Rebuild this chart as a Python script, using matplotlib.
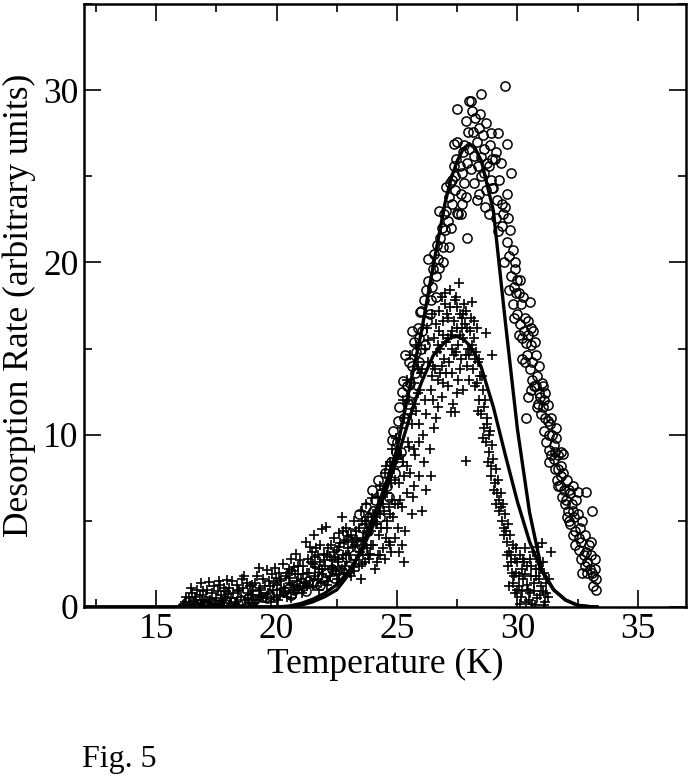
import matplotlib
matplotlib.use("Agg")
import matplotlib.pyplot as plt
from matplotlib.ticker import MultipleLocator

plt.rcParams['font.family'] = ['Liberation Serif', 'DejaVu Serif']

# circles (first data set)
circ_x = [16.4, 16.7, 17.0, 17.3, 17.6, 17.9, 18.2, 18.5, 18.8, 19.1, 19.4, 19.7, 20.0,
          16.6, 17.1, 17.8, 18.4, 19.0, 19.6,
          20.3, 20.5, 20.7, 20.9, 21.1, 21.3, 21.5, 21.7, 21.9, 22.1, 22.3, 22.5, 22.7, 22.9,
          20.6, 21.2, 21.8, 22.4, 23.0,
          23.1, 23.3, 23.4, 23.6, 23.7, 23.85, 23.96, 24.1, 24.2, 24.35, 24.5, 24.6, 24.75, 24.8,
          24.85, 24.95, 23.2, 23.5, 23.8, 24.0, 24.3, 24.65, 24.9,
          25.0, 25.05, 25.1, 25.2, 25.25, 25.3, 25.4, 25.5, 25.55, 25.6, 25.7, 25.8, 25.85, 25.9,
          25.95, 25.15, 25.45, 25.65, 25.75, 25.9, 25.35, 25.6, 25.05,
          26.0, 26.05, 26.1, 26.2, 26.3, 26.35, 26.4, 26.5, 26.55, 26.6, 26.7, 26.74, 26.8, 26.9,
          26.95, 26.15, 26.45, 26.65, 26.85, 26.25, 26.6, 26.9, 26.3, 26.75, 26.0,
          27.0, 27.05, 27.1, 27.16, 27.2, 27.25, 27.3, 27.35, 27.37, 27.4, 27.45, 27.5, 27.5, 27.55,
          27.6, 27.64, 27.7, 27.75, 27.8, 27.85, 27.9, 27.95, 27.16, 27.3, 27.5, 27.65, 27.8, 27.9,
          27.05, 27.4, 27.7, 27.85, 27.98,
          28.0, 28.06, 28.1, 28.15, 28.2, 28.3, 28.4, 28.47, 28.5, 28.5, 28.55, 28.6, 28.7, 28.7,
          28.75, 28.8, 28.85, 28.9, 28.9, 28.95, 28.05, 28.25, 28.35, 28.45, 28.65, 28.8, 28.2,
          28.4, 28.6, 28.95, 28.3,
          29.0, 29.05, 29.1, 29.15, 29.2, 29.25, 29.36, 29.36, 29.45, 29.47, 29.55, 29.55, 29.56,
          29.6, 29.7, 29.73, 29.75, 29.8, 29.8, 29.85, 29.9, 30.0, 29.1, 29.3, 29.5, 29.65, 29.85,
          29.95, 29.2, 29.4, 29.65,
          30.0, 30.05, 30.1, 30.15, 30.2, 30.25, 30.3, 30.35, 30.35, 30.4, 30.45, 30.5, 30.5, 30.55,
          30.6, 30.65, 30.7, 30.75, 30.77, 30.8, 30.85, 30.9, 30.95, 31.0, 30.12, 30.28, 30.42,
          30.58, 30.72, 30.88, 30.98, 30.2, 30.62,
          31.05, 31.1, 31.15, 31.2, 31.27, 31.3, 31.35, 31.4, 31.45, 31.5, 31.55, 31.6, 31.65, 31.7,
          31.75, 31.8, 31.85, 31.9, 31.95, 31.12, 31.25, 31.38, 31.52, 31.68, 31.82, 31.98, 31.3,
          31.6, 31.9,
          32.0, 32.05, 32.1, 32.15, 32.2, 32.25, 32.3, 32.35, 32.4, 32.45, 32.5, 32.55, 32.6, 32.65,
          32.7, 32.75, 32.8, 32.85, 32.9, 32.95, 33.0, 33.05, 33.1, 33.15, 33.2, 33.25, 33.26, 32.5,
          32.85, 33.1, 32.12, 32.38, 32.62, 32.88, 33.12, 32.3,
          30.05, 30.3, 30.55, 30.8, 31.05, 31.3, 31.55, 31.8, 32.05, 32.3, 32.55, 32.8, 33.05,
          29.9, 30.45, 31.15, 31.7, 32.2, 32.7, 33.2]
circ_y = [0.1, 0.2, 0.15, 0.3, 0.2, 0.35, 0.3, 0.4, 0.5, 0.45, 0.6, 0.7, 0.8,
          0.05, 0.1, 0.25, 0.2, 0.35, 0.5,
          0.9, 1.1, 1.0, 1.3, 1.2, 1.5, 1.4, 1.8, 1.7, 2.0, 2.2, 2.1, 2.6, 2.9,
          0.7, 0.9, 1.3, 1.7, 2.4,
          4.3, 3.8, 5.4, 4.6, 5.8, 5.2, 6.8, 6.2, 7.4, 6.6, 7.8, 7.0, 8.4, 9.7,
          10.2, 9.0, 3.0, 3.6, 4.4, 5.6, 5.2, 6.4, 7.8,
          9.6, 10.8, 11.6, 12.5, 13.1, 11.0, 12.8, 14.2, 13.0, 14.0, 15.4, 14.8, 16.2, 15.6,
          17.1, 9.0, 11.8, 12.4, 13.6, 14.2, 14.6, 16.0, 8.4,
          17.2, 16.0, 17.8, 18.4, 18.9, 17.0, 17.8, 19.6, 20.5, 19.2, 20.2, 19.7, 21.4, 20.9,
          22.8, 15.2, 18.6, 21.0, 22.0, 16.6, 18.0, 20.0, 20.2, 23.0, 15.0,
          21.9, 23.0, 22.4, 23.8, 24.6, 22.0, 24.8, 25.6, 26.9, 24.2, 26.0, 28.9, 22.9, 22.8,
          25.6, 22.8, 25.2, 26.4, 24.6, 23.8, 21.4, 27.6, 20.9, 23.4, 27.0, 24.0, 26.8, 25.8,
          24.4, 25.0, 23.4, 28.2, 26.6,
          29.4, 29.4, 28.8, 27.6, 26.2, 27.0, 24.0, 29.8, 26.1, 25.0, 27.4, 26.6, 28.1, 24.2,
          25.8, 25.6, 26.8, 27.5, 24.8, 24.3, 25.4, 28.4, 25.6, 28.6, 23.2, 22.8, 24.6,
          27.8, 25.2, 26.0, 23.6,
          24.3, 26.0, 26.4, 23.6, 27.5, 24.8, 23.4, 22.1, 20.0, 30.26, 24.0, 21.2, 26.9,
          22.6, 21.9, 25.2, 19.2, 20.7, 17.6, 18.6, 20.0, 19.0, 22.6, 25.8, 23.2, 20.4, 16.8,
          18.2, 21.8, 22.8, 18.4,
          17.0, 18.2, 16.4, 17.6, 15.6, 18.0, 16.8, 15.3, 11.0, 14.6, 16.6, 17.7, 13.8, 15.2,
          14.2, 16.0, 12.8, 14.6, 12.8, 13.4, 11.8, 14.0, 12.2, 13.0, 19.0, 16.0, 15.8,
          12.6, 15.4, 12.4, 11.2, 14.4, 13.2,
          11.6, 10.2, 12.4, 9.6, 11.7, 9.1, 10.6, 8.8, 10.0, 9.4, 8.0, 9.8, 7.4, 8.8,
          7.0, 9.0, 6.4, 7.8, 6.8, 12.0, 10.8, 11.0, 8.6, 7.0, 8.2, 6.0, 8.4,
          10.4, 8.9,
          6.2, 7.4, 5.6, 6.8, 4.8, 6.0, 7.0, 5.2, 4.4, 6.2, 5.4, 3.3, 4.6, 3.8,
          5.0, 3.0, 4.2, 6.7, 2.6, 3.6, 2.2, 3.0, 5.6, 1.8, 2.8, 1.6, 1.0, 6.7,
          3.2, 2.0, 5.0, 3.6, 2.8, 2.0, 1.2, 4.2,
          15.8, 14.2, 16.2, 11.6, 12.8, 10.0, 9.0, 7.6, 5.2, 5.6, 4.0, 2.4, 3.8,
          19.6, 12.2, 11.0, 8.0, 6.6, 2.0, 2.2]

# crosses (second data set)
cross_x = [16.1, 16.2, 16.3, 16.35, 16.4, 16.5, 16.55, 16.6, 16.7, 16.75, 16.8, 16.85, 16.9, 16.95,
           17.0, 16.25, 16.45, 16.65, 16.9, 16.15,
           17.05, 17.1, 17.15, 17.2, 17.3, 17.35, 17.4, 17.5, 17.55, 17.6, 17.65, 17.7, 17.75, 17.8,
           17.85, 17.9, 17.95, 17.25, 17.45, 17.6, 17.8, 17.98,
           18.02, 18.1, 18.15, 18.2, 18.3, 18.35, 18.4, 18.5, 18.55, 18.6, 18.7, 18.75, 18.8, 18.85,
           18.9, 18.95, 18.25, 18.45, 18.65, 18.8, 18.98, 18.12,
           19.02, 19.1, 19.15, 19.2, 19.27, 19.3, 19.4, 19.45, 19.5, 19.6, 19.65, 19.7, 19.75, 19.8,
           19.85, 19.9, 19.95, 19.05, 19.35, 19.55, 19.72, 19.88, 19.98, 19.25,
           20.02, 20.1, 20.15, 20.2, 20.25, 20.3, 20.4, 20.45, 20.5, 20.55, 20.6, 20.7, 20.75, 20.8,
           20.85, 20.9, 20.95, 20.05, 20.35, 20.5, 20.65, 20.8, 20.98, 20.2, 20.6, 20.9,
           21.02, 21.1, 21.15, 21.2, 21.25, 21.3, 21.4, 21.45, 21.5, 21.56, 21.6, 21.7, 21.75, 21.8,
           21.85, 21.9, 21.95, 21.05, 21.35, 21.5, 21.65, 21.8, 21.98, 21.2, 21.6, 21.9, 21.4, 21.75,
           22.02, 22.05, 22.1, 22.2, 22.25, 22.3, 22.4, 22.45, 22.5, 22.55, 22.6, 22.7, 22.75, 22.8,
           22.85, 22.9, 22.95, 22.08, 22.35, 22.5, 22.65, 22.8, 22.98, 22.2, 22.6, 22.9, 22.4, 22.75,
           22.15, 22.55,
           23.02, 23.1, 23.15, 23.2, 23.25, 23.3, 23.4, 23.45, 23.5, 23.55, 23.6, 23.7, 23.75, 23.8,
           23.85, 23.9, 23.95, 23.08, 23.35, 23.5, 23.65, 23.8, 23.98, 23.2, 23.6, 23.9, 23.4, 23.75,
           23.15, 23.55,
           24.02, 24.1, 24.15, 24.2, 24.25, 24.3, 24.4, 24.45, 24.5, 24.55, 24.6, 24.7, 24.75, 24.8,
           24.85, 24.9, 24.95, 24.08, 24.35, 24.5, 24.65, 24.8, 24.98, 24.2, 24.6, 24.9, 24.4, 24.75,
           24.15, 24.55, 24.7, 24.9,
           25.02, 25.1, 25.15, 25.2, 25.25, 25.3, 25.4, 25.45, 25.5, 25.55, 25.6, 25.7, 25.75, 25.8,
           25.85, 25.9, 25.95, 25.08, 25.35, 25.5, 25.65, 25.8, 25.98, 25.2, 25.6, 25.9, 25.4, 25.75,
           25.15, 25.55, 25.7, 25.9, 25.3, 25.85,
           26.02, 26.1, 26.15, 26.2, 26.25, 26.3, 26.4, 26.45, 26.5, 26.55, 26.6, 26.7, 26.74, 26.8,
           26.85, 26.9, 26.95, 26.08, 26.35, 26.5, 26.65, 26.8, 26.98, 26.2, 26.6, 26.9, 26.4, 26.75,
           26.15, 26.55, 26.7, 26.9, 26.3, 26.85, 26.05, 26.45,
           27.0, 27.05, 27.1, 27.15, 27.2, 27.25, 27.3, 27.35, 27.4, 27.45, 27.5, 27.55, 27.57, 27.6,
           27.65, 27.7, 27.75, 27.8, 27.85, 27.9, 27.95, 27.02, 27.12, 27.22, 27.32, 27.42, 27.52,
           27.62, 27.72, 27.82, 27.92, 27.2, 27.45, 27.86, 27.3, 27.6, 27.75, 27.1, 27.5, 27.98,
           28.0, 28.05, 28.1, 28.15, 28.2, 28.25, 28.3, 28.35, 28.4, 28.45, 28.5, 28.55, 28.6, 28.65,
           28.7, 28.75, 28.8, 28.85, 28.9, 28.95, 28.02, 28.12, 28.22, 28.32, 28.42, 28.52, 28.62,
           28.72, 28.82, 28.92, 28.7, 28.94, 28.18, 28.38, 28.58, 28.78,
           29.0, 29.05, 29.1, 29.15, 29.2, 29.25, 29.3, 29.35, 29.4, 29.45, 29.5, 29.55, 29.6, 29.65,
           29.7, 29.75, 29.8, 29.85, 29.9, 29.95, 29.02, 29.12, 29.22, 29.32, 29.42, 29.52, 29.62,
           29.72, 29.82, 29.92, 29.66, 29.88,
           30.0, 30.05, 30.1, 30.15, 30.2, 30.25, 30.3, 30.35, 30.4, 30.45, 30.5, 30.55, 30.6, 30.65,
           30.7, 30.75, 30.8, 30.85, 30.9, 30.95, 31.0, 31.05, 31.1, 31.15, 31.2, 31.25, 31.4, 30.12,
           30.32, 30.52, 30.72, 30.92, 31.12, 30.22,
           20.12, 20.32, 20.42, 20.62, 20.72, 20.88, 21.08, 21.28, 21.42, 21.58, 21.72, 21.88,
           22.12, 22.28, 22.42, 22.58, 22.72, 22.88, 23.12, 23.28, 23.42, 23.58, 23.72, 23.88,
           23.05, 23.65,
           24.12, 24.28, 24.42, 24.58, 24.72, 24.88, 25.12, 25.28, 25.42, 25.58, 25.72, 25.88,
           24.3, 24.65, 25.05, 25.25,
           29.58, 29.78, 29.98, 30.08, 30.18, 30.28, 30.38, 30.48, 30.58, 30.68, 30.78, 30.88,
           30.98, 31.08, 31.18, 31.3,
           26.58, 26.68, 26.88, 27.08, 27.28, 27.38, 27.48, 27.68, 27.88, 28.08, 28.28]
cross_y = [0.1, 0.3, 0.05, 0.5, 0.2, 0.8, 0.3, 0.6, 1.0, 0.15, 0.7, 1.4, 0.4, 0.9,
           0.25, 0.6, 1.1, 0.4, 0.1, 0.2,
           0.6, 1.0, 0.3, 1.45, 0.8, 0.2, 1.2, 0.5, 0.9, 0.1, 1.3, 0.7, 0.35, 1.1,
           0.6, 0.9, 1.57, 0.4, 0.15, 1.5, 0.25, 0.75,
           1.1, 0.5, 1.5, 0.8, 0.3, 1.3, 0.9, 0.6, 1.6, 1.1, 0.4, 1.4, 0.8, 0.2,
           1.2, 0.7, 0.15, 1.0, 1.8, 0.5, 1.3, 0.2,
           0.9, 1.4, 0.4, 1.8, 2.26, 1.1, 0.6, 1.6, 1.2, 2.15, 0.8, 1.5, 0.3, 1.9,
           1.0, 1.4, 2.26, 0.25, 0.7, 0.5, 1.2, 0.6, 1.7, 1.0,
           1.3, 2.0, 0.7, 1.6, 2.5, 1.1, 1.8, 0.6, 2.2, 1.4, 2.8, 1.0, 1.9, 3.1,
           1.5, 2.4, 1.2, 0.4, 0.9, 1.7, 2.1, 0.8, 2.7, 1.0, 0.5, 1.9,
           1.6, 2.4, 1.1, 3.8, 2.0, 2.8, 1.5, 3.2, 2.5, 4.2, 1.8, 3.0, 2.2, 3.6,
           1.4, 4.5, 2.7, 0.8, 2.0, 1.2, 3.4, 2.6, 3.1, 1.4, 2.3, 1.9, 3.5, 1.0,
           2.4, 4.65, 3.0, 1.8, 3.6, 2.7, 4.0, 2.1, 3.3, 2.6, 4.3, 5.2, 3.0, 3.8,
           2.4, 4.6, 3.4, 1.3, 2.2, 1.6, 3.7, 2.0, 4.1, 2.9, 1.9, 3.0, 3.2, 4.4,
           1.5, 2.8,
           3.0, 4.2, 2.3, 5.0, 3.6, 2.7, 4.6, 3.2, 5.6, 2.5, 4.0, 6.0, 3.4, 5.2,
           2.8, 4.4, 6.3, 1.8, 3.9, 1.6, 4.8, 3.0, 5.4, 2.1, 3.0, 3.6, 2.4, 4.4,
           3.5, 5.0,
           3.6, 5.2, 2.6, 6.4, 4.2, 7.0, 3.4, 5.6, 7.8, 4.0, 6.6, 8.4, 3.2, 9.2,
           5.2, 7.4, 9.8, 2.2, 4.6, 2.8, 5.8, 6.2, 8.6, 3.0, 4.6, 4.0, 6.0, 7.2,
           4.8, 8.2, 3.6, 6.0,
           4.6, 7.2, 10.4, 5.8, 8.4, 11.0, 6.6, 9.6, 12.0, 7.8, 10.6, 13.0, 8.8, 11.4,
           14.2, 9.6, 12.6, 3.2, 4.4, 9.3, 6.4, 15.2, 13.6, 3.6, 5.4, 7.6, 13.2, 11.8,
           8.8, 14.6, 9.2, 10.6, 2.6, 12.4,
           13.8, 8.4, 15.0, 11.2, 16.2, 15.5, 12.6, 17.0, 14.0, 10.4, 16.4, 13.2, 17.2, 15.0,
           12.2, 16.6, 14.4, 10.0, 9.2, 12.0, 14.8, 13.6, 17.6, 6.8, 11.0, 15.8, 7.6, 16.0,
           12.0, 15.6, 11.6, 13.0, 14.2, 18.0, 5.6, 13.4,
           18.2, 15.4, 16.8, 14.2, 17.4, 15.8, 13.6, 16.6, 17.8, 14.8, 16.2, 15.2, 18.8, 17.0,
           14.4, 16.8, 15.6, 17.6, 14.6, 16.2, 15.0, 13.6, 12.8, 11.3, 11.8, 11.3, 13.2,
           13.8, 12.6, 16.4, 14.0, 18.4, 18.0, 8.5, 15.0, 15.8, 17.0, 15.6, 12.4, 13.2,
           14.6, 16.8, 17.7, 13.8, 15.6, 12.8, 16.2, 14.2, 12.0, 13.4, 11.2, 12.6, 10.4, 12.0,
           9.6, 11.0, 9.0, 10.2, 8.2, 9.4, 16.0, 15.2, 14.4, 13.0, 14.4, 13.4, 11.6,
           10.6, 10.0, 7.6, 15.9, 14.6, 16.6, 11.4, 9.8, 8.4,
           8.6, 7.2, 8.0, 6.6, 7.4, 5.6, 6.6, 5.0, 6.0, 4.6, 5.4, 3.8, 4.8, 3.2,
           4.2, 2.6, 3.6, 1.8, 2.8, 3.4, 6.8, 6.0, 6.2, 5.8, 4.2, 4.4, 2.4,
           3.0, 1.4, 2.0, 1.2, 0.8,
           2.6, 1.2, 3.0, 0.6, 2.2, 1.6, 3.4, 0.3, 2.4, 1.0, 2.8, 1.8, 0.2, 3.2,
           1.4, 2.2, 0.5, 3.5, 1.6, 2.6, 3.7, 0.9, 2.0, 0.3, 1.4, 0.6, 3.2, 0.2,
           1.9, 0.8, 0.1, 0.7, 0.1, 2.8,
           1.5, 0.8, 2.0, 1.3, 2.3, 1.1, 1.9, 1.2, 2.6, 2.9, 1.6, 2.2,
           3.4, 2.3, 2.9, 3.5, 2.2, 3.9, 3.8, 4.4, 3.0, 3.9, 5.0, 3.1,
           2.0, 2.6,
           4.8, 5.4, 6.8, 5.0, 5.4, 8.0, 6.2, 7.6, 8.2, 11.2, 7.0, 13.8,
           3.0, 3.8, 6.0, 12.0,
           3.0, 2.0, 1.0, 1.8, 0.9, 2.6, 1.3, 0.4, 2.4, 0.9, 1.8, 2.2,
           1.2, 2.6, 0.8, 1.6,
           13.8, 15.2, 14.0, 17.0, 16.0, 14.6, 17.4, 16.2, 17.2, 15.0, 14.8]

# fitted curves
fit_t = [12.0, 20.0, 20.5, 21.0, 21.5, 22.0, 22.5, 23.0, 23.5, 24.0, 24.5, 25.0, 25.5, 26.0,
         26.5, 27.0, 27.25, 27.5, 27.75, 28.0, 28.25, 28.5, 29.0, 29.5, 30.0, 30.5, 31.0, 31.5,
         32.0, 32.5, 33.0, 33.3]
fit_circ = [0.0, 0.0, 0.0, 0.1, 0.3, 0.6, 1.0, 1.9, 3.3, 5.2, 7.0, 9.2, 12.6, 15.9,
            19.8, 23.5, 24.9, 25.9, 26.6, 26.9, 26.6, 25.9, 23.0, 16.5, 10.3, 5.5, 2.2, 1.0,
            0.4, 0.1, 0.02, 0.0]
fit_cross = [0.0, 0.0, 0.05, 0.2, 0.45, 0.8, 1.3, 2.1, 3.2, 4.7, 6.6, 8.6, 10.9, 13.0,
             14.6, 15.4, 15.65, 15.7, 15.55, 15.2, 14.65, 13.9, 11.6, 8.8, 6.1, 3.8, 2.1, 1.0,
             0.4, 0.1, 0.02, 0.0]

fig = plt.figure(figsize=(6.92, 7.81), dpi=100)
ax = fig.add_axes([0.1214, 0.2228, 0.870, 0.772])

ax.plot(cross_x, cross_y, linestyle='none', marker='+', ms=7.5, mew=1.2, color='black')
ax.plot(circ_x, circ_y, linestyle='none', marker='o', ms=6.6, mew=1.1,
        markerfacecolor='none', markeredgecolor='black')
ax.plot(fit_t, fit_circ, color='black', lw=2.4)
ax.plot(fit_t, fit_cross, color='black', lw=2.4)

ax.set_xlim(12, 37)
ax.set_ylim(0, 35)
ax.xaxis.set_major_locator(MultipleLocator(5))
ax.xaxis.set_minor_locator(MultipleLocator(2.5))
ax.yaxis.set_major_locator(MultipleLocator(10))
ax.yaxis.set_minor_locator(MultipleLocator(5))
ax.tick_params(which='both', direction='in', top=True, right=True, width=1.2, labelsize=25.5)
ax.tick_params(which='major', length=12, pad=4)
ax.tick_params(which='minor', length=6)
for s in ax.spines.values():
    s.set_linewidth(1.8)

ax.set_xlabel('Temperature (K)', fontsize=25.5, labelpad=2)
ax.set_ylabel('Desorption Rate (arbitrary units)', fontsize=25.5, labelpad=5)

fig.text(0.118, 0.018, 'Fig. 5', fontsize=23)

fig.savefig('out.png', dpi=100)
